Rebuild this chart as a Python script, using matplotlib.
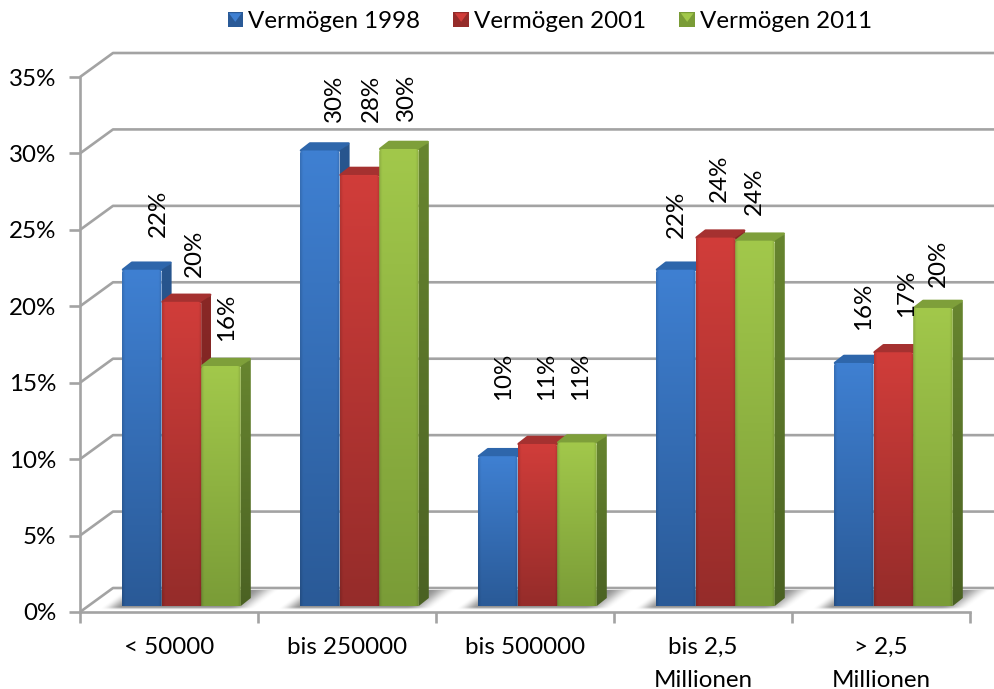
import numpy as np
import matplotlib
matplotlib.use("Agg")
import matplotlib.pyplot as plt
from matplotlib.colors import LinearSegmentedColormap
from matplotlib.legend_handler import HandlerBase
from matplotlib.patches import Patch, Polygon, FancyBboxPatch
from matplotlib.ticker import FuncFormatter

categories = ["< 50000", "bis 250000", "bis 500000", "bis 2,5\nMillionen", "> 2,5\nMillionen"]
series_names = ["Vermögen 1998", "Vermögen 2001", "Vermögen 2011"]
v1998 = [22.0, 29.8, 9.8, 22.0, 15.9]
v2001 = [19.9, 28.2, 10.6, 24.1, 16.6]
v2011 = [15.7, 29.9, 10.7, 23.9, 19.5]
labels_1998 = ["22%", "30%", "10%", "22%", "16%"]
labels_2001 = ["20%", "28%", "11%", "24%", "17%"]
labels_2011 = ["16%", "30%", "11%", "24%", "20%"]

# label placement relative to the bar top centre (pixels)
lab_dx = [[17, 15, 6, 1, 10], [13, 12, 9, 4, 13], [6, 7, 4, -1, 5]]
lab_dy = [[33, 28, 56, 32, 33], [25, 53, 44, 36, 35], [25, 28, 42, 26, 21]]

W, H = 995, 689
AX_L, AX_R, AX_T, AX_B = 80, 970, 77, 612
DEPTH_X, DEPTH_Y = 33, 24          # wall depth, px
BAR_DX, BAR_DY = 10, 8             # bar depth, px
INSET_Y = 6                        # bars sit above front edge, px
GRID = "#a3a3a3"
FONT = "Lato"
FS_TICK = 17.4

palette = {
    0: dict(top="#3f80d2", bot="#2a5a97", side_t="#28568f", side_b="#1d4272", cap="#2e66ab"),
    1: dict(top="#d13d3a", bot="#952c2a", side_t="#8a2826", side_b="#6a1f1e", cap="#a53130"),
    2: dict(top="#a2c84b", bot="#7a9c37", side_t="#67852f", side_b="#4b6223", cap="#7e9f3a"),
}

plt.rcParams["font.family"] = [FONT, "DejaVu Sans"]
fig = plt.figure(figsize=(W / 100, H / 100), dpi=100)
ax = fig.add_axes([AX_L / W, 1 - AX_B / H, (AX_R - AX_L) / W, (AX_B - AX_T) / H])
ax.set_xlim(0, 5)
ax.set_ylim(0, 35)
ax.patch.set_alpha(0)

ux = 5 / (AX_R - AX_L)   # data per px, x
uy = 35 / (AX_B - AX_T)  # data per px, y
dx, dy = DEPTH_X * ux, DEPTH_Y * uy

# walls
yt = np.arange(0, 40, 5)
for y in yt:
    ax.plot([0, dx, 5 + dx], [y, y + dy, y + dy], color=GRID, lw=1.9, clip_on=False, zorder=1,
            solid_capstyle="butt", solid_joinstyle="round")

# floor shadows: a blurred, sheared footprint of each bar group
bar_w = 39.6 * ux
inset = INSET_Y * uy
def smooth(t):
    t = np.clip(t, 0, 1)
    return t * t * (3 - 2 * t)

def shadow(i):
    px = np.arange(0, 215.0)       # px right of the group's left tick
    py = np.arange(0, 22.0, 0.5)   # px above the axis line
    X, Y = np.meshgrid(px, py)
    sx = X - (Y - 4) * 1.35        # shear toward the back
    left = smooth((sx - 20) / 22)
    right = smooth((176 - sx) / 28)
    front = smooth((Y - 2) / 3)
    alpha = 0.85 * left * right * front
    rgba = np.zeros(X.shape + (4,))
    rgba[..., :3] = 0.50
    rgba[..., 3] = alpha
    ax.imshow(rgba, extent=(i + px[0] * ux, i + px[-1] * ux, py[0] * uy, py[-1] * uy), origin="lower",
              aspect="auto", zorder=1.5, clip_on=False, interpolation="bilinear")

for i in range(len(categories)):
    shadow(i)

def vgrad(c0, c1):
    return LinearSegmentedColormap.from_list("g", [c0, c1])

# bars
all_vals = [v1998, v2001, v2011]
all_labs = [labels_1998, labels_2001, labels_2011]
x_idx = np.arange(len(categories))
bdx, bdy = BAR_DX * ux, BAR_DY * uy
z = 3
for j, (vals, name) in enumerate(zip(all_vals, series_names)):
    p = palette[j]
    lefts = x_idx + 42 * ux + j * bar_w
    bars = ax.bar(lefts, vals, width=bar_w, bottom=inset, align="edge", color="none", zorder=z, label=name)
    for b, v in zip(bars, vals):
        x0, x1 = b.get_x(), b.get_x() + b.get_width()
        y0, y1 = inset, inset + v
        # top face
        top = Polygon([(x0 + 1 * ux, y1), (x0 + bdx, y1 + bdy - 1 * uy), (x1 + bdx - 1 * ux, y1 + bdy - 1 * uy), (x1, y1)],
                      closed=True, fc=p["cap"], ec=p["cap"], lw=1.8, joinstyle="round", zorder=z)
        ax.add_patch(top)
        # side face
        side = Polygon([(x1, y0), (x1 + bdx, y0 + bdy), (x1 + bdx, y1 + bdy - 1.5 * uy), (x1, y1)], closed=True,
                       fc="none", ec="none", zorder=z)
        ax.add_patch(side)
        im = ax.imshow(np.linspace(1, 0, 64)[:, None], cmap=vgrad(p["side_b"], p["side_t"]),
                       extent=(x1, x1 + bdx, y0, y1 + bdy), origin="upper", aspect="auto",
                       zorder=z + 0.1, interpolation="bilinear", vmin=0, vmax=1)
        im.set_clip_path(side)
        # front face, rounded top only
        front = FancyBboxPatch((x0, y0 - 1), x1 - x0, y1 - y0 + 1, boxstyle="round,pad=0,rounding_size=0.018",
                               fc="none", ec="none", zorder=z + 0.2, mutation_aspect=uy / ux)
        ax.add_patch(front)
        yy = np.linspace(1, 0, 128)
        img = np.tile(yy[:, None], (1, 32))
        rgb = vgrad(p["bot"], p["top"])(img)
        xx = np.linspace(0, 1, 32)
        rim = np.clip(1 - np.minimum(xx, 1 - xx) / 0.07, 0, 1)[None, :, None]
        rgb[..., :3] = rgb[..., :3] * (1 - 0.12 * rim)
        im2 = ax.imshow(rgb, extent=(x0, x1, y0, y1), origin="upper", aspect="auto",
                        zorder=z + 0.2, interpolation="bilinear")
        im2.set_clip_path(front)
    z += 1

ax.set_xlim(0, 5)
ax.set_ylim(0, 35)

# value labels
for j, (vals, labs) in enumerate(zip(all_vals, all_labs)):
    lefts = x_idx + 42 * ux + j * bar_w
    for i, (v, t) in enumerate(zip(vals, labs)):
        ax.annotate(t, (lefts[i] + bar_w / 2, v + inset), xytext=(lab_dx[j][i], lab_dy[j][i]),
                    textcoords="offset pixels", rotation=90, ha="center", va="bottom",
                    fontsize=FS_TICK, color="black", zorder=10, annotation_clip=False)

# axes, ticks
for s in ("top", "right"):
    ax.spines[s].set_visible(False)
for s in ("left", "bottom"):
    ax.spines[s].set_color(GRID)
    ax.spines[s].set_linewidth(1.9)
ax.set_yticks(yt)
ax.yaxis.set_major_formatter(FuncFormatter(lambda v, _: f"{int(v)}%"))
ax.set_xticks(np.arange(0, 6))
ax.set_xticklabels([])
ax.set_xticks(x_idx + 0.5, minor=True)
ax.set_xticklabels(categories, minor=True, fontsize=FS_TICK, linespacing=1.68, va="top")
ax.tick_params(axis="x", which="minor", length=0, pad=18)
ax.tick_params(axis="x", which="major", length=8, width=1.9, color=GRID)
ax.tick_params(axis="y", which="major", length=8, width=1.9, color=GRID, labelsize=FS_TICK, pad=9)

# legend
class CubeHandler(HandlerBase):
    def create_artists(self, legend, orig, xd, yd, w, h, fs, trans):
        side = 15.5 * 72 / 100
        x0 = -xd + (w - side) / 2
        y0 = -yd + (h - side) / 2
        base = Polygon([(x0, y0), (x0 + side, y0), (x0 + side, y0 + side), (x0, y0 + side)],
                       fc=orig.get_edgecolor(), ec="none", transform=trans)
        tri = Polygon([(x0 + 1, y0 + side - 1), (x0 + side - 1, y0 + side - 1), (x0 + side / 2, y0 + side * 0.35)],
                      fc=orig.get_facecolor(), ec="none", transform=trans)
        return [base, tri]

handles = [Patch(facecolor=palette[k]["top"], edgecolor=palette[k]["bot"], label=series_names[k]) for k in range(3)]
leg = fig.legend(handles=handles, loc="upper left", bbox_to_anchor=(225 / W, 1 - 11 / H), ncol=3, frameon=False,
                 fontsize=FS_TICK, handler_map={Patch: CubeHandler()}, handlelength=0.85, handletextpad=0.1,
                 columnspacing=1.28, borderaxespad=0, borderpad=0)

fig.savefig("out.png", dpi=100)
